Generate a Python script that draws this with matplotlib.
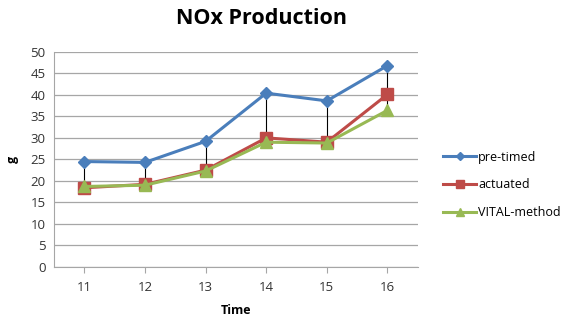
import matplotlib
matplotlib.use("Agg")
import matplotlib.pyplot as plt
from matplotlib.ticker import MultipleLocator

plt.rcParams['font.family'] = ['Open Sans', 'DejaVu Sans']

times = ["11", "12", "13", "14", "15", "16"]
pre_timed = [24.5, 24.3, 29.2, 40.4, 38.6, 46.8]
actuated = [18.4, 19.2, 22.5, 30.0, 29.0, 40.1]
vital = [18.7, 19.0, 22.3, 29.0, 28.8, 36.4]

fig = plt.figure(figsize=(5.63, 3.22), dpi=100)
ax = fig.add_axes([0.096, 0.171, 0.646, 0.668])

x = list(range(len(times)))
hi = [max(a, b, c) for a, b, c in zip(pre_timed, actuated, vital)]
lo = [min(a, b, c) for a, b, c in zip(pre_timed, actuated, vital)]
ax.vlines(x, lo, hi, colors='black', linewidth=0.8, zorder=2)

ax.plot(x, pre_timed, color='#4A7EBB', marker='D', markersize=6, linewidth=2.2,
        label='pre-timed', zorder=3)
ax.plot(x, actuated, color='#BE4B48', marker='s', markersize=8, linewidth=2.2,
        label='actuated', zorder=4)
ax.plot(x, vital, color='#98B954', marker='^', markersize=8, linewidth=2.2,
        label='VITAL-method', zorder=5)

ax.set_xlim(-0.5, len(times) - 0.5)
ax.set_ylim(0, 50)
ax.yaxis.set_major_locator(MultipleLocator(5))
ax.set_xticks(x)
ax.set_xticklabels(times)
ax.grid(axis='y', color='#A6A6A6', linewidth=0.9)
ax.set_axisbelow(True)
for s in ['top', 'right']:
    ax.spines[s].set_visible(False)
ax.spines['left'].set_color('#A6A6A6')
ax.spines['bottom'].set_color('#A6A6A6')
ax.tick_params(axis='both', colors='#333333', labelsize=9.5, length=0, pad=6)
ax.tick_params(axis='x', length=4, color='#A6A6A6', direction='out')

ax.set_xlabel('Time', fontsize=9, fontweight='bold', labelpad=7)
ax.set_ylabel('g', fontsize=9, fontweight='bold', labelpad=8)
fig.text(261 / 563, 1 - 18 / 322, 'NOx Production', fontsize=15.5,
         fontweight='bold', ha='center', va='center')

ax.legend(loc='center left', bbox_to_anchor=(432 / 563, 1 - 185 / 322),
          bbox_transform=fig.transFigure, frameon=False, markerscale=0.75,
          fontsize=9, handlelength=2.6, labelspacing=1.2, handletextpad=0.2)

fig.savefig('out.png', dpi=100)
